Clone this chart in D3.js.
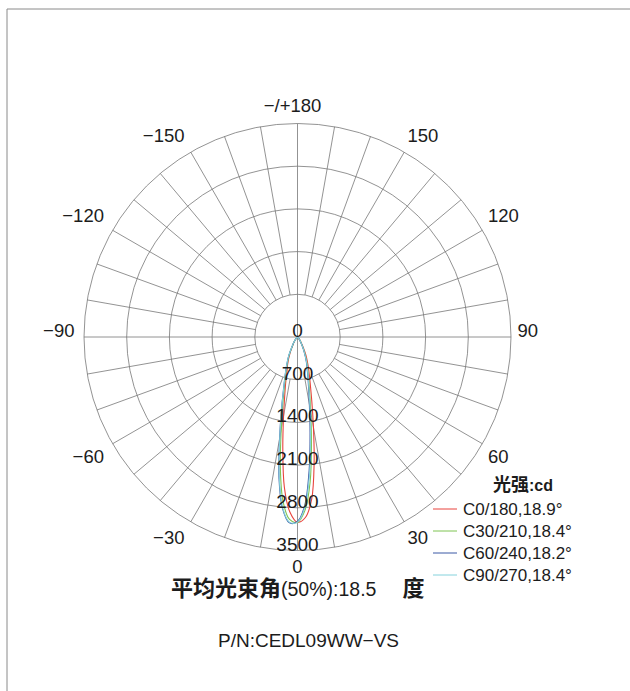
<!DOCTYPE html>
<html lang="zh">
<head>
<meta charset="UTF-8">
<title>配光曲线</title>
<script src="https://d3js.org/d3.v7.min.js"></script>
<style>
  html, body { margin: 0; padding: 0; background: #fff; }
  svg { display: block; }
  text { font-family: "Liberation Sans", Arial, Helvetica, sans-serif; fill: #1c1c1c; }
  .cjk { font-family: "Noto Sans CJK SC", "Noto Sans", sans-serif; font-weight: bold; }
</style>
</head>
<body>
<div id="chart"></div>
<script>
// gamma angles (deg) of each half plane, 0 = straight down
const gammas = [-90, -60, -45, -40, -35, -30, -25, -20, -17.5, -15, -12.5, -10, -7.5, -5, -2.5,
                0, 2.5, 5, 7.5, 10, 12.5, 15, 17.5, 20, 25, 30, 35, 40, 45, 60, 90];

// luminous intensity (cd)
const c0   = [0, 6, 24, 43, 86, 147, 290, 471, 563, 734, 961, 1316, 1845, 2472, 2870,
              3036, 2962, 2668, 2087, 1506, 1086, 814, 643, 514, 324, 168, 98, 50, 27, 6, 0];
const c30  = [0, 6, 25, 46, 92, 160, 320, 511, 647, 819, 1109, 1537, 2156, 2710, 2994,
              3040, 2840, 2381, 1753, 1247, 912, 702, 554, 450, 268, 136, 77, 40, 22, 6, 0];
const c60  = [0, 5, 25, 50, 99, 174, 341, 543, 682, 884, 1209, 1690, 2325, 2821, 3050,
              3023, 2759, 2192, 1581, 1123, 837, 651, 515, 418, 239, 124, 68, 34, 19, 5, 0];
const c90  = [0, 6, 26, 50, 100, 177, 341, 543, 682, 874, 1194, 1665, 2294, 2806, 3038,
              3035, 2790, 2263, 1643, 1178, 868, 676, 536, 434, 254, 130, 71, 37, 20, 5, 0];

const seriesNames  = ["C0/180,18.9°", "C30/210,18.4°", "C60/240,18.2°", "C90/270,18.4°"];
const seriesValues = [c0, c30, c60, c90];
const seriesColors = ["#e8433c", "#7fc453", "#3b58a5", "#85d2dc"];

const ringTicks  = [0, 700, 1400, 2100, 2800, 3500];
const angleTicks = [0, 30, 60, 90, 120, 150, 180, -150, -120, -90, -60, -30];
const angleText  = d => d === 180 ? "\u2212/+180" : (d < 0 ? "\u2212" + (-d) : String(d));

const beamLabel = "平均光束角";
const beamValue = "(50%):18.5";
const beamUnit  = "度";
const partNo    = "P/N:CEDL09WW\u2212VS";
const legendTitle = ["光强", ":cd"];

const W = 630, H = 691;
const cx = 297.5, cy = 337;

const svg = d3.select("#chart").append("svg")
    .attr("width", W).attr("height", H);

// frame
svg.append("path")
    .attr("d", `M7,${H} V9 H${W}`)
    .attr("fill", "none")
    .attr("stroke", "#8a8a8a")
    .attr("stroke-width", 1);

const r = d3.scaleLinear().domain([0, 3500]).range([0, 213.5]);
// gamma in degrees -> d3 radial angle (0 = up, clockwise)
const ang = g => Math.PI - g * Math.PI / 180;

const g = svg.append("g").attr("transform", `translate(${cx},${cy})`);

// rings
g.selectAll("circle.ring")
  .data(ringTicks.filter(d => d > 0))
  .join("circle")
    .attr("class", "ring")
    .attr("r", d => r(d))
    .attr("fill", "none")
    .attr("stroke", "#777")
    .attr("stroke-width", 0.8);

// spokes every 10 deg
const spokes = d3.range(0, 360, 10);
g.selectAll("line.spoke")
  .data(spokes)
  .join("line")
    .attr("class", "spoke")
    .attr("x1", d => (d % 90 === 0 ? 0 : r(700)) * Math.sin(d * Math.PI / 180))
    .attr("y1", d => (d % 90 === 0 ? 0 : r(700)) * Math.cos(d * Math.PI / 180))
    .attr("x2", d => r(3500) * Math.sin(d * Math.PI / 180))
    .attr("y2", d => r(3500) * Math.cos(d * Math.PI / 180))
    .attr("stroke", "#777")
    .attr("stroke-width", 0.8);

// curves
const line = d3.lineRadial()
    .angle(d => ang(d[0]))
    .radius(d => r(d[1]))
    .curve(d3.curveCatmullRom);

g.selectAll("path.curve")
  .data(seriesValues)
  .join("path")
    .attr("class", "curve")
    .attr("d", vals => line(gammas.map((a, i) => [a, vals[i]])))
    .attr("fill", "none")
    .attr("stroke", (d, i) => seriesColors[i])
    .attr("stroke-width", 1.1);

// ring labels along the 0 deg direction
g.selectAll("text.rlab")
  .data(ringTicks)
  .join("text")
    .attr("class", "rlab")
    .attr("x", 0)
    .attr("y", d => r(d))
    .attr("text-anchor", "middle")
    .style("font-size", "19px")
    .text(d => d);

// angle labels
const RL = 220;
g.selectAll("text.alab")
  .data(angleTicks)
  .join("text")
    .attr("class", "alab")
    .attr("x", d => {
      const s = Math.sin(d * Math.PI / 180);
      return RL * s + (s < -0.01 ? -3 : 0) + (d === 180 ? -5 : 0);
    })
    .attr("y", d => {
      const c = Math.cos(d * Math.PI / 180);
      return RL * c + (c < -0.01 ? -11 : c > 0.01 ? 10 : -6);
    })
    .attr("dy", "0.35em")
    .attr("text-anchor", d => {
      const s = Math.sin(d * Math.PI / 180);
      return s > 0.01 ? "start" : s < -0.01 ? "end" : "middle";
    })
    .style("font-size", "18.5px")
    .text(angleText);

// legend
const lg = svg.append("g").attr("transform", "translate(433,509)");
const lt = lg.append("text").attr("x", 60).attr("y", -18).style("font-size", "18px");
lt.append("tspan").attr("class", "cjk").text(legendTitle[0]);
lt.append("tspan").style("font-weight", "bold").style("font-size", "16px").text(legendTitle[1]);

const items = lg.selectAll("g.item")
  .data(seriesNames)
  .join("g")
    .attr("class", "item")
    .attr("transform", (d, i) => `translate(0,${i * 22})`);
items.append("line")
    .attr("x1", 0).attr("x2", 24)
    .attr("stroke", (d, i) => seriesColors[i])
    .attr("stroke-width", 1);
items.append("text")
    .attr("x", 30).attr("y", 5.5)
    .style("font-size", "17px")
    .text(d => d);

// beam angle text
const bt = svg.append("text").attr("x", 171).attr("y", 596);
bt.append("tspan").attr("class", "cjk").style("font-size", "22px").text(beamLabel);
bt.append("tspan").style("font-size", "19.5px").text(beamValue);
bt.append("tspan").attr("class", "cjk").attr("dx", 26).style("font-size", "22px").text(beamUnit);

svg.append("text")
    .attr("x", 308.5).attr("y", 647)
    .attr("text-anchor", "middle")
    .style("font-size", "19px")
    .text(partNo);
</script>
</body>
</html>
